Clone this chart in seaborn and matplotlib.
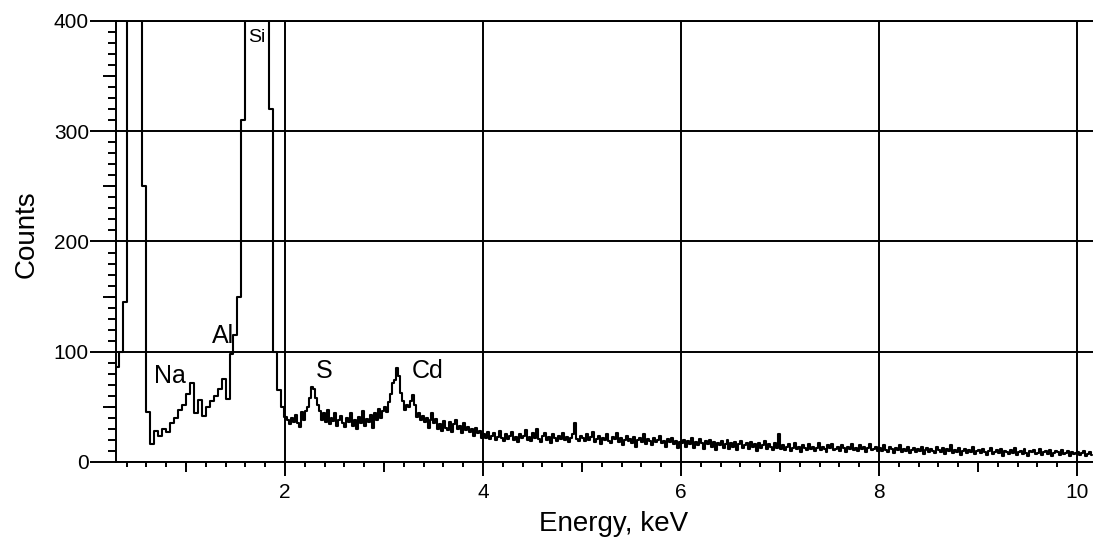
import numpy as np
import pandas as pd
import seaborn as sns
import matplotlib.pyplot as plt
from matplotlib.ticker import MultipleLocator

# coarse channels (0.04 keV) from 0.30 keV, fine channels (0.02 keV) from 2.01 keV
low_start, low_width = 0.30, 0.04
fine_start, fine_width = 2.01, 0.02

# 0.30 - 1.98 keV (O and Si peaks go off scale)
counts_low = [86, 100, 145, 900, 2200, 2600, 1100, 250, 45, 16,
              28, 24, 30, 27, 35, 40, 47, 52, 62, 72,
              44, 56, 42, 50, 55, 60, 66, 75, 57, 98,
              115, 150, 310, 900, 3000, 5200, 6000, 4200, 1500, 320,
              100, 65, 50]

# 2.01 - 3.99 keV
counts_mid = [41, 38, 34, 40, 36, 43, 35, 32, 45, 38,
              46, 50, 58, 68, 66, 58, 52, 46, 38, 44,
              36, 47, 34, 40, 37, 44, 33, 38, 42, 35,
              32, 40, 36, 44, 33, 38, 30, 41, 35, 46,
              33, 39, 36, 43, 31, 44, 38, 48, 40, 46,
              50, 45, 54, 62, 72, 74, 85, 78, 63, 55,
              47, 52, 50, 55, 61, 52, 41, 44, 38, 42,
              36, 40, 31, 38, 44, 35, 39, 30, 34, 28,
              37, 31, 29, 36, 27, 34, 38, 30, 33, 26,
              35, 29, 32, 27, 30, 24, 31, 26, 28, 22]

# 4.01 - 10.15 keV
counts_tail = [
    25, 22, 27, 21, 24, 26, 20, 23, 28, 22, 19, 25, 21, 24, 27, 20, 23, 18, 25, 22,
    24, 29, 20, 23, 19, 26, 22, 30, 21, 18, 24, 26, 20, 23, 17, 25, 22, 19, 24, 21,
    26, 20, 23, 18, 22, 25, 35, 21, 19, 24,
    22, 19, 25, 20, 23, 27, 18, 21, 24, 16, 22, 20, 25, 19, 17, 23, 21, 26, 18, 22,
    15, 20, 24, 19, 21, 17, 23, 14, 20, 22, 18, 25, 16, 21, 19, 15, 22, 18, 20, 24,
    17, 19, 14, 21, 18, 22, 16, 19, 13, 18,
    17, 20, 14, 19, 16, 22, 13, 18, 15, 21, 17, 12, 19, 16, 20, 14, 18, 11, 17, 15,
    19, 13, 16, 20, 12, 17, 14, 18, 11, 16, 19, 13, 15, 17, 12, 18, 14, 16, 10, 17,
    13, 15, 19, 12, 16, 14, 11, 17, 13, 25,
    12, 15, 11, 14, 16, 10, 13, 17, 12, 14, 9, 15, 13, 11, 16, 12, 14, 10, 13, 17,
    11, 14, 12, 9, 15, 13, 16, 11, 12, 14, 10, 15, 13, 9, 14, 12, 16, 11, 13, 10,
    15, 12, 14, 9, 13, 16, 11, 12, 14, 10,
    13, 10, 15, 11, 9, 14, 12, 8, 13, 11, 15, 9, 12, 10, 14, 8, 11, 13, 9, 12,
    10, 14, 7, 11, 13, 9, 12, 10, 8, 14, 11, 9, 13, 7, 12, 10, 15, 8, 11, 9,
    13, 6, 10, 12, 8, 11, 9, 14, 7, 10,
    11, 8, 12, 9, 6, 10, 13, 7, 9, 11, 8, 12, 5, 10, 9, 7, 11, 8, 13, 6,
    9, 10, 7, 12, 8, 5, 10, 9, 11, 7, 8, 12, 6, 9, 10, 7, 11, 5, 8, 10,
    9, 6, 11, 7, 8, 10, 5, 9, 7, 8,
    9, 6, 8, 10, 5, 7, 9, 6]

peak_labels = ["Na", "Al", "Si", "S", "Cd"]
label_energy = [0.84, 1.37, 1.72, 2.40, 3.44]
label_counts = [72, 108, 381, 76, 76]
label_sizes = [18, 18, 14, 18, 18]

counts_fine = counts_mid + counts_tail
energy = np.concatenate([low_start + low_width * np.arange(len(counts_low)),
                         fine_start + fine_width * np.arange(len(counts_fine))])
counts = np.array(counts_low + counts_fine)
df = pd.DataFrame({"Energy": energy, "Counts": counts})

sns.set_theme(style="white")
plt.rcParams['font.family'] = ['Liberation Sans', 'DejaVu Sans']

fig = plt.figure(figsize=(10.93, 5.37), dpi=100)
ax = fig.add_axes([0.1061, 0.1397, 0.8939, 0.8212])

sns.lineplot(data=df, x="Energy", y="Counts", drawstyle="steps-mid",
             color="black", lw=1.5, ax=ax, zorder=5)

ax.set_xlim(0.293, 10.162)
ax.set_ylim(0, 400)

ax.xaxis.set_major_locator(MultipleLocator(2))
ax.xaxis.set_minor_locator(MultipleLocator(0.2))
ax.yaxis.set_major_locator(MultipleLocator(100))
ax.yaxis.set_minor_locator(MultipleLocator(10))

ax.tick_params(axis='x', which='major', length=10, width=1.4, direction='out',
               labelsize=15, pad=5, colors='black', bottom=True)
ax.tick_params(axis='x', which='minor', length=3.6, width=1.4, direction='out',
               colors='black', bottom=True)
ax.tick_params(axis='y', which='major', length=18.5, width=1.4, direction='out',
               labelsize=15, pad=1, colors='black', left=True)
ax.tick_params(axis='y', which='minor', length=5.8, width=1.4, direction='out',
               colors='black', left=True)

# medium ticks at odd keV and at 50-count steps
secx = ax.secondary_xaxis('bottom')
secx.set_xticks([1, 3, 5, 7, 9], labels=[])
secx.tick_params(length=7.2, width=1.4, direction='out', colors='black')
secx.spines['bottom'].set_visible(False)
secy = ax.secondary_yaxis('left')
secy.set_yticks([50, 150, 250, 350], labels=[])
secy.tick_params(length=9.4, width=1.4, direction='out', colors='black')
secy.spines['left'].set_visible(False)

ax.grid(True, which='major', color='black', lw=1.4)
ax.set_axisbelow(True)
for side in ['left', 'bottom', 'top']:
    ax.spines[side].set_color('black')
    ax.spines[side].set_linewidth(1.4)
ax.spines['right'].set_visible(False)

ax.set_xlabel("Energy, keV", fontsize=20, color='black')
ax.set_ylabel("Counts", fontsize=20, color='black')
ax.xaxis.set_label_coords(0.509, -0.112)
ax.yaxis.set_label_coords(-0.078, 0.516)

for lab, xe, yc, fs in zip(peak_labels, label_energy, label_counts, label_sizes):
    t = ax.text(xe, yc, lab, fontsize=fs, ha='center', va='baseline', color='black', zorder=3)
    if lab == "Al":
        t.set_bbox(dict(facecolor='white', edgecolor='none', pad=2))

fig.savefig("out.png", dpi=100)
